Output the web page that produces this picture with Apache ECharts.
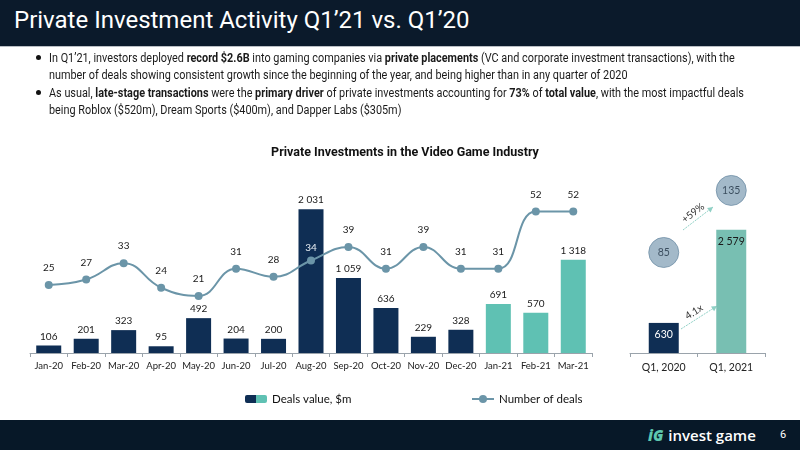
<!DOCTYPE html>
<html>
<head>
<meta charset="utf-8">
<script src="https://cdn.jsdelivr.net/npm/echarts@6/dist/echarts.min.js"></script>
<style>
  html, body { margin: 0; padding: 0; background: #fff; }
  #page { position: relative; width: 800px; height: 450px; overflow: hidden; font-family: Roboto, sans-serif; }
  #chart { position: absolute; left: 0; top: 0; width: 800px; height: 450px; }
  .header { position: absolute; left: 0; top: 0; width: 800px; height: 46px; background: #0b1a2b; border-bottom: 1px solid #b9bec4; z-index: 2; }
  .header h1 { margin: 0; position: absolute; left: 14px; top: 6px; font-size: 24px; font-weight: 400; color: #fff; white-space: nowrap; }
  .bullets { position: absolute; left: 0; top: 50px; width: 800px; z-index: 2; color: #1a1a1a; font-size: 12px; }
  .bullet { position: absolute; left: 49px; }
  .bullet::before { content: ""; position: absolute; left: -13px; top: 5px; width: 5px; height: 5px; border-radius: 50%; background: #111; }
  .ln { display: block; white-space: nowrap; height: 17px; line-height: 17px; transform: scaleX(0.905); transform-origin: left; }
  .footer { position: absolute; left: 0; top: 420px; width: 800px; height: 30px; background: #071828; z-index: 2; }
  .logo { position: absolute; left: 648px; top: 5px; font-size: 15px; color: #fff; font-weight: 600; font-family: "Open Sans", sans-serif; white-space: nowrap; }
  .logo i { color: #5ec8b0; font-weight: 800; margin-right: 5px; }
  .pnum { position: absolute; left: 780px; top: 8px; font-size: 11px; color: #fff; }
</style>
</head>
<body>
<div id="page">
  <div id="chart"></div>
  <div class="header"><h1>Private Investment Activity Q1’21 vs. Q1’20</h1></div>
  <div class="bullets">
    <div class="bullet" style="top:0px">
      <span class="ln">In Q1’21, investors deployed <b>record $2.6B</b> into gaming companies via <b>private placements</b> (VC and corporate investment transactions), with the</span>
      <span class="ln">number of deals showing consistent growth since the beginning of the year, and being higher than in any quarter of 2020</span>
    </div>
    <div class="bullet" style="top:35px">
      <span class="ln">As usual, <b>late-stage transactions</b> were the <b>primary driver</b> of private investments accounting for <b>73%</b> of <b>total value</b>, with the most impactful deals</span>
      <span class="ln">being Roblox ($520m), Dream Sports ($400m), and Dapper Labs ($305m)</span>
    </div>
  </div>
  <div class="footer">
    <div class="logo"><i>iG</i>invest game</div>
    <div class="pnum">6</div>
  </div>
</div>
<script>
const months = ["Jan-20", "Feb-20", "Mar-20", "Apr-20", "May-20", "Jun-20", "Jul-20", "Aug-20",
  "Sep-20", "Oct-20", "Nov-20", "Dec-20", "Jan-21", "Feb-21", "Mar-21"];
const dealsValue = [106, 201, 323, 95, 492, 204, 200, 2031, 1059, 636, 229, 328, 691, 570, 1318];
const dealsCount = [25, 27, 33, 24, 21, 31, 28, 34, 39, 31, 39, 31, 31, 52, 52];
const quarters = ["Q1, 2020", "Q1, 2021"];
const quarterValue = [630, 2579];
const quarterDeals = [85, 135];
const growthLabels = ["+59%", "4.1x"];

const NAVY = "#0f2e54";
const TEAL = "#5fc1b3";
const TEAL_Q = "#78bfb2";
const LINE = "#6b95a8";
const labelFont = "Lato, sans-serif";

function fmt(v) {
  return String(v).replace(/\B(?=(\d{3})+(?!\d))/g, " ");
}

function arrow(x1, y1, x2, y2, text, tx, ty) {
  const ang = Math.atan2(y2 - y1, x2 - x1);
  const s = 6;
  const p1 = [x2 - s * Math.cos(ang - 0.5), y2 - s * Math.sin(ang - 0.5)];
  const p2 = [x2 - s * Math.cos(ang + 0.5), y2 - s * Math.sin(ang + 0.5)];
  return [
    { type: "line", shape: { x1, y1, x2, y2 }, style: { stroke: "#8fd0c5", lineWidth: 1, lineDash: [2, 1] } },
    { type: "polygon", shape: { points: [[x2, y2], p1, p2] }, style: { fill: "#8fd0c5" } },
    { type: "text", x: tx, y: ty, rotation: -ang, style: { text, fill: "#333", font: "10px " + labelFont, align: "center", verticalAlign: "middle" } },
  ];
}

const chart = echarts.init(document.getElementById("chart"));
chart.setOption({
  animation: false,
  title: {
    text: "Private Investments in the Video Game Industry",
    left: 400, top: 141, textAlign: "center",
    textStyle: { fontFamily: "Roboto", fontSize: 12.5, fontWeight: "bold", color: "#111" },
  },
  legend: [
    {
      data: ["Deals value, $m"], left: 240, top: 388, itemWidth: 22, itemHeight: 8, itemGap: 4,
      textStyle: { fontFamily: labelFont, fontSize: 11.5, color: "#111" },
    },
    {
      data: ["Number of deals"], left: 466, top: 388, itemWidth: 22, itemHeight: 10,
      textStyle: { fontFamily: labelFont, fontSize: 11.5, color: "#111" },
    },
  ],
  grid: [
    { left: 30, top: 183, width: 562, height: 170 },
    { left: 630, top: 183, width: 135, height: 170 },
  ],
  xAxis: [
    {
      type: "category", data: months, gridIndex: 0,
      axisLine: { lineStyle: { color: "#9aa3ab" } },
      axisTick: { show: true, length: 4, lineStyle: { color: "#9aa3ab" } },
      axisLabel: { interval: 0, fontFamily: labelFont, fontSize: 9.5, color: "#222", margin: 8 },
    },
    {
      type: "category", data: quarters, gridIndex: 1,
      axisLine: { lineStyle: { color: "#9aa3ab" } },
      axisTick: { show: true, length: 4, lineStyle: { color: "#9aa3ab" } },
      axisLabel: { interval: 0, fontFamily: labelFont, fontSize: 10.5, color: "#222", margin: 9 },
    },
  ],
  yAxis: [
    { gridIndex: 0, min: 0, max: 2400, show: false, splitLine: { show: false } },
    { gridIndex: 0, min: 0, max: 62.5, show: false, splitLine: { show: false } },
    { gridIndex: 1, min: 0, max: 3560, show: false, splitLine: { show: false } },
    { gridIndex: 1, min: 4, max: 141, show: false, splitLine: { show: false } },
  ],
  series: [
    {
      name: "Deals value, $m", type: "bar", xAxisIndex: 0, yAxisIndex: 0, barWidth: 25,
      itemStyle: {
        color: new echarts.graphic.LinearGradient(0, 0, 1, 0, [
          { offset: 0, color: NAVY }, { offset: 0.5, color: NAVY },
          { offset: 0.5, color: TEAL }, { offset: 1, color: TEAL },
        ]),
      },
      data: dealsValue.map((v, i) => ({ value: v, itemStyle: { color: months[i].endsWith("21") ? TEAL : NAVY } })),
      label: {
        show: true, position: "top", distance: 4, formatter: (p) => fmt(p.value),
        fontFamily: labelFont, fontSize: 10, color: "#1a1a1a",
      },
    },
    {
      name: "Number of deals", type: "line", xAxisIndex: 0, yAxisIndex: 1, smooth: 0.45,
      symbol: "circle", symbolSize: 8,
      lineStyle: { color: LINE, width: 2 }, itemStyle: { color: LINE },
      data: dealsCount.map((v, i) => (months[i] === "Aug-20"
        ? { value: v, label: { color: "#e8eef3", position: "top", distance: 4 } }
        : v)),
      label: { show: true, position: "top", distance: 8, fontFamily: labelFont, fontSize: 10, color: "#1a1a1a" },
      z: 5,
    },
    {
      name: "Q1 value", type: "bar", xAxisIndex: 1, yAxisIndex: 2, barWidth: 30,
      data: quarterValue.map((v, i) => ({
        value: v,
        itemStyle: { color: i === 0 ? NAVY : TEAL_Q },
        label: { color: i === 0 ? "#fff" : "#1a1a1a" },
      })),
      label: {
        show: true, position: "insideTop", distance: 6, formatter: (p) => fmt(p.value),
        fontFamily: labelFont, fontSize: 10.5,
      },
    },
    {
      name: "Q1 deals", type: "scatter", xAxisIndex: 1, yAxisIndex: 3, symbolSize: 30,
      itemStyle: { color: "#8ca8bc", borderColor: "#6f8fa6", borderWidth: 1 },
      data: quarterDeals,
      label: { show: true, position: "inside", fontFamily: labelFont, fontSize: 10.5, color: "#1f3142" },
      z: 6,
    },
  ],
  graphic: [
    ...arrow(683, 230, 713, 207, growthLabels[0], 693, 213),
    ...arrow(681, 329, 717, 306, growthLabels[1], 694, 312),
  ],
});
</script>
</body>
</html>
